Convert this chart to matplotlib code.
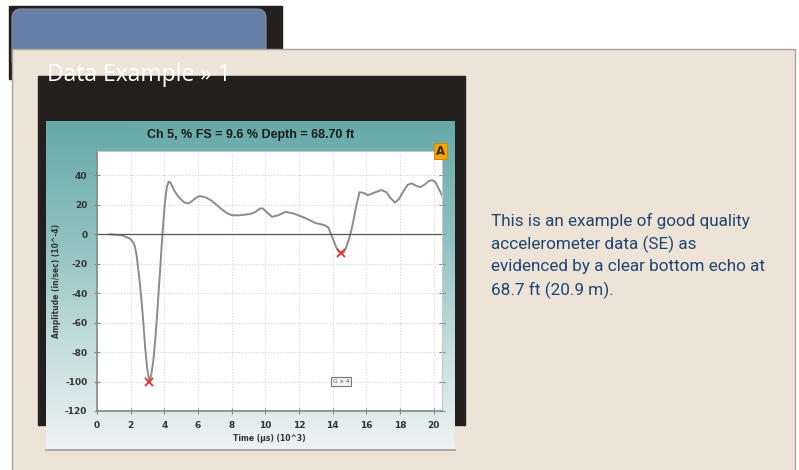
import numpy as np
import matplotlib
matplotlib.use('Agg')
import matplotlib.pyplot as plt
from matplotlib.patches import Rectangle, FancyBboxPatch
from matplotlib.colors import LinearSegmentedColormap

plt.rcParams['axes.unicode_minus'] = False

# trace
time_k = [0.75, 1.5, 1.96, 2.15, 2.26, 2.36, 2.46, 2.56, 2.66, 2.76, 2.86, 2.98, 3.11,
          3.23, 3.35, 3.45, 3.55, 3.65, 3.75, 3.85, 3.95, 4.05, 4.15, 4.25, 4.33, 4.45,
          4.6, 4.8, 5.0, 5.2, 5.42, 5.6, 5.8, 6.0, 6.2, 6.5, 6.8, 7.1, 7.4, 7.7, 8.0,
          8.4, 8.8, 9.1, 9.4, 9.68, 9.85, 10.1, 10.4, 10.8, 11.2, 11.7, 12.2, 12.6,
          13.0, 13.3, 13.55, 13.75, 13.9, 14.05, 14.2, 14.35, 14.5, 14.65, 14.8, 14.95,
          15.1, 15.25, 15.4, 15.6, 15.85, 16.1, 16.5, 16.9, 17.2, 17.45, 17.7, 17.95,
          18.2, 18.45, 18.7, 18.95, 19.2, 19.45, 19.7, 19.9, 20.1, 20.3, 20.5]
amplitude = [0, -0.8, -3, -5.5, -8.6, -15, -24.5, -35, -47, -61, -76.7, -91, -100,
             -95, -85.7, -73, -58.5, -41, -24.5, -6, 9.5, 23, 32, 35.6, 35.5, 33,
             29.5, 26, 23.5, 21.5, 20.9, 22, 24, 25.6, 25.8, 24.8, 22.8, 20, 17, 14.5, 12.9,
             12.8, 13.3, 13.8, 15, 17.4, 17.5, 14.8, 11.8, 13, 15.2, 14, 11.8, 9.8,
             7.5, 6.8, 6, 4.5, 0, -4, -8.5, -11.5, -13, -12.5, -9, -4,
             2, 10, 19, 28.5, 28, 26.5, 28.3, 30, 28.5, 24.5, 21.5, 24, 29, 33.5,
             34.5, 33, 32, 33.5, 36, 36.8, 35.5, 31, 26.5]
marks_x = [3.11, 14.5]
marks_y = [-100, -13]

title = 'Ch 5, % FS = 9.6 % Depth = 68.70 ft'
x_ticks = list(range(0, 21, 2))
y_ticks = list(range(-120, 41, 20))
note = ['This is an example of good quality',
        'accelerometer data (SE) as',
        'evidenced by a clear bottom echo at',
        '68.7 ft (20.9 m).']

W, H = 799, 470
fig = plt.figure(figsize=(W / 100, H / 100), dpi=100)
fig.patch.set_facecolor('white')

bg = fig.add_axes([0, 0, 1, 1])
bg.axis('off')

dark = '#221f1e'
bg.add_patch(Rectangle((9, 6), 273, 73, color=dark, zorder=1))
bg.add_patch(FancyBboxPatch((12, 9), 254, 60, boxstyle='round,pad=0,rounding_size=9',
                            fc='#657fa6', ec='#8d8f94', lw=0.8, zorder=2))
bg.add_patch(Rectangle((12, 49), 783, 430, fc='#ede4d7', ec='#a9a49d', lw=1, zorder=3))
bg.add_patch(Rectangle((38, 76), 427, 349, color=dark, zorder=4))
bg.text(47, 75, 'Data Example \u00bb 1', color='white', fontsize=16.5, family='Open Sans',
        va='center', ha='left', zorder=6)

# teal gradient behind the plot
teal = LinearSegmentedColormap.from_list('teal', ['#66a9a9', '#8cbfbf', '#c2dcdc', '#eef3f3'])
grad = np.linspace(0, 1, 256).reshape(-1, 1)
bg.imshow(grad, cmap=teal, aspect='auto', extent=(46, 455, 450, 121), zorder=5)
bg.plot([46, 455], [450, 450], color='#9a9a9a', lw=1.2, zorder=5)
bg.set_xlim(0, W)
bg.set_ylim(H, 0)

bg.text(251, 135, title, fontsize=9, fontweight='bold', family='Liberation Sans',
        color='#1a1a1a', ha='center', va='center', zorder=6)

for i, line in enumerate(note):
    bg.text(491, 221 + 23 * i, line, fontsize=12.3, family='Roboto',
            color='#1e4571', ha='left', va='center', zorder=6)

# the trace itself
x0, x1, y0, y1 = 97, 442, 151, 411
ax = fig.add_axes([x0 / W, 1 - y1 / H, (x1 - x0) / W, (y1 - y0) / H])
ax.set_zorder(10)
ax.set_facecolor('white')
ax.plot(time_k, amplitude, color='#8c8c8c', lw=1.4)
ax.axhline(0, color='#555555', lw=0.9)
ax.plot(marks_x, marks_y, 'x', color='#e03030', ms=6, mew=1.3)
ax.text(14.5, -100, 'G x 4', fontsize=4.5, color='#555555', ha='center', va='center',
        bbox=dict(boxstyle='square,pad=0.25', fc='#f4f4f4', ec='#777777', lw=0.8))

ax.set_xlim(0, 20.5)
ax.set_ylim(-120, 56.5)
ax.set_xticks(x_ticks)
ax.set_yticks(y_ticks)
ax.grid(True, color='#d4d4d4', ls=':', lw=0.8)
ax.tick_params(direction='inout', length=4, width=0.8, color='#888888',
               labelsize=6.5, labelcolor='#333333', right=True, pad=5)
for lbl in ax.get_xticklabels() + ax.get_yticklabels():
    lbl.set_fontweight('bold')
for side in ['left', 'bottom']:
    ax.spines[side].set_color('#888888')
    ax.spines[side].set_linewidth(1.2)
for side in ['top', 'right']:
    ax.spines[side].set_color('#c8c8c8')
    ax.spines[side].set_linewidth(0.8)
ax.set_xlabel('Time (\u00b5s) (10^3)', fontsize=5.5, fontweight='bold', color='#333333',
              labelpad=3)
ax.set_ylabel('Amplitude (in/sec) (10^-4)', fontsize=5.5, fontweight='bold', color='#333333',
              labelpad=3)

# orange "A" badge overlapping the plot corner
ax.add_patch(Rectangle((434, 143), 13, 16, fc='#f6a800', ec='#c98a10', lw=0.8,
                       transform=bg.transData, clip_on=False, zorder=20))
ax.text(440.5, 151.5, 'A', fontsize=8.5, fontweight='bold', color='#3a2a00',
        ha='center', va='center', transform=bg.transData, zorder=21)

fig.savefig('out.png', dpi=100)
